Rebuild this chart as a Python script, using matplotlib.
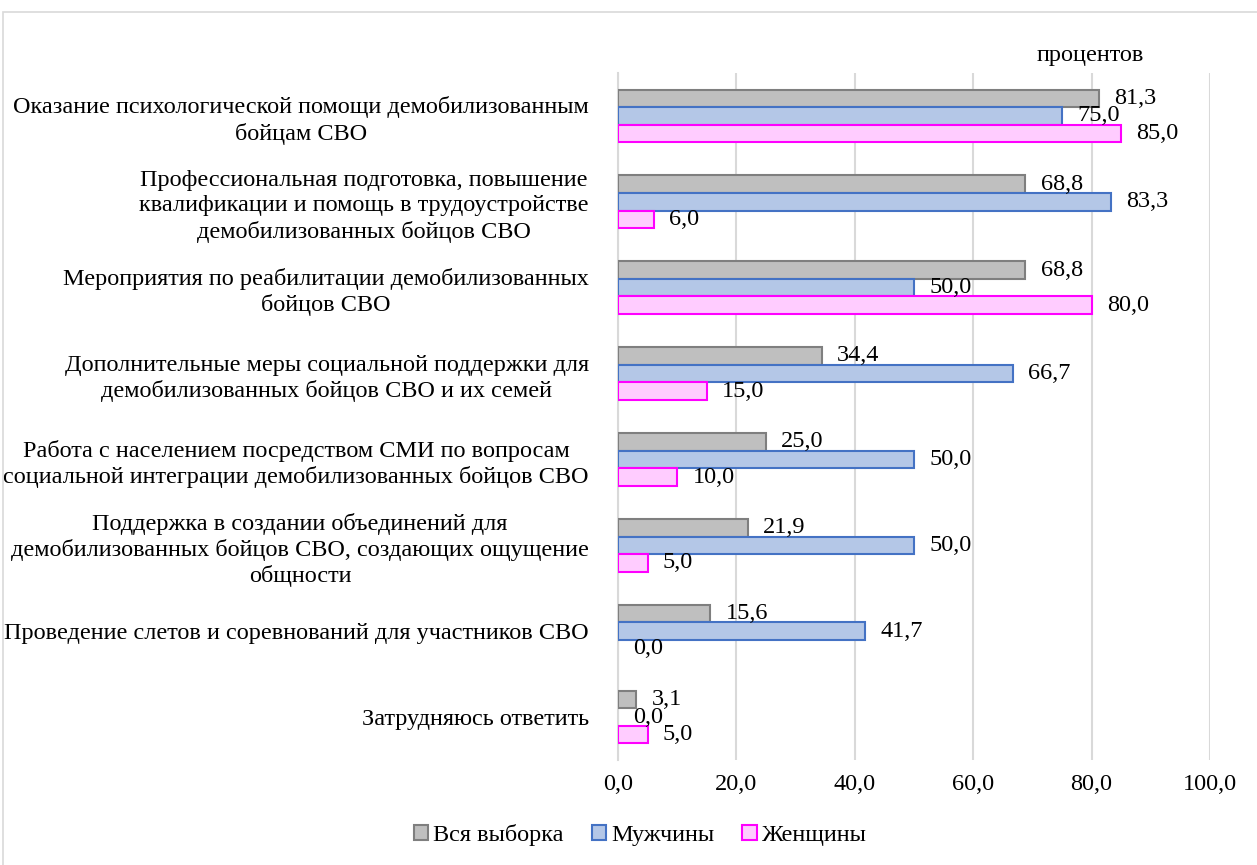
import matplotlib
matplotlib.use("Agg")
import matplotlib.pyplot as plt
from matplotlib.patches import Rectangle, Patch
import numpy as np

plt.rcParams['font.family'] = ['Liberation Serif', 'DejaVu Serif']

categories = [
    "Оказание психологической помощи демобилизованным\nбойцам СВО",
    "Профессиональная подготовка, повышение\nквалификации и помощь в трудоустройстве\nдемобилизованных бойцов СВО",
    "Мероприятия по реабилитации демобилизованных\nбойцов СВО",
    "Дополнительные меры социальной поддержки для\nдемобилизованных бойцов СВО и их семей",
    "Работа с населением посредством СМИ по вопросам\nсоциальной интеграции демобилизованных бойцов СВО",
    "Поддержка в создании объединений для\nдемобилизованных бойцов СВО, создающих ощущение\nобщности",
    "Проведение слетов и соревнований для участников СВО",
    "Затрудняюсь ответить",
]
series_names = ["Вся выборка", "Мужчины", "Женщины"]
all_sample = [81.3, 68.8, 68.8, 34.4, 25.0, 21.9, 15.6, 3.1]
men = [75.0, 83.3, 50.0, 66.7, 50.0, 50.0, 41.7, 0.0]
women = [85.0, 6.0, 80.0, 15.0, 10.0, 5.0, 0.0, 5.0]
x_ticks = [0, 20, 40, 60, 80, 100]
unit_label = "процентов"

faces = ["#BFBFBF", "#B4C7E7", "#FFCCFF"]
edges = ["#7F7F7F", "#4472C4", "#FF00FF"]

W, H = 1257, 865
fig = plt.figure(figsize=(W / 100, H / 100), dpi=100)
fig.patches.append(Rectangle((3 / W, -0.01), 1.02, 1 - 12 / H + 0.01, transform=fig.transFigure,
                             fill=False, edgecolor="#D9D9D9", linewidth=1.2, zorder=0))

ax = fig.add_axes([618 / W, 1 - 760 / H, (1210 - 618) / W, (760 - 73) / H])

n = len(categories)
y = np.arange(n)
h = 0.205
fs = 17.5
for k, vals in enumerate([all_sample, men, women]):
    pos = y + (k - 1) * h
    lws = [1.5 if v > 0 else 0 for v in vals]
    ax.barh(pos, vals, height=h, color=faces[k], edgecolor=edges[k], linewidth=lws,
            label=series_names[k], zorder=3)
    for p, v in zip(pos, vals):
        ax.annotate(f"{v:.1f}".replace(".", ","), xy=(v, p), xytext=(11, 0),
                    textcoords="offset points", ha="left", va="center", fontsize=fs, zorder=4)

ax.set_ylim(n - 0.5, -0.5)
ax.set_xlim(0, 100)
ax.set_xticks(x_ticks)
ax.set_xticklabels([f"{t:.1f}".replace(".", ",") for t in x_ticks], fontsize=fs)
ax.set_yticks(y)
ax.set_yticklabels(categories, fontsize=fs, ha="right", multialignment="center", linespacing=1.25)
ax.tick_params(axis="both", length=0)
ax.tick_params(axis="y", pad=21)
ax.tick_params(axis="x", pad=10)
ax.grid(axis="x", color="#D9D9D9", linewidth=1.5, zorder=0)
for s in ["top", "right", "bottom"]:
    ax.spines[s].set_visible(False)
ax.spines["left"].set_color("#D9D9D9")
ax.spines["left"].set_linewidth(1.5)

fig.text(1090 / W, 1 - 55 / H, unit_label, ha="center", va="center", fontsize=fs)

handles = [Patch(facecolor=faces[k], edgecolor=edges[k], linewidth=1.5) for k in range(3)]
fig.legend(handles, series_names, loc="center", bbox_to_anchor=(640 / W, 1 - 835 / H), ncol=3,
           frameon=False, fontsize=fs, handlelength=0.6, handleheight=0.6, handletextpad=0.2,
           columnspacing=1.15)

fig.savefig("out.png", dpi=100)
